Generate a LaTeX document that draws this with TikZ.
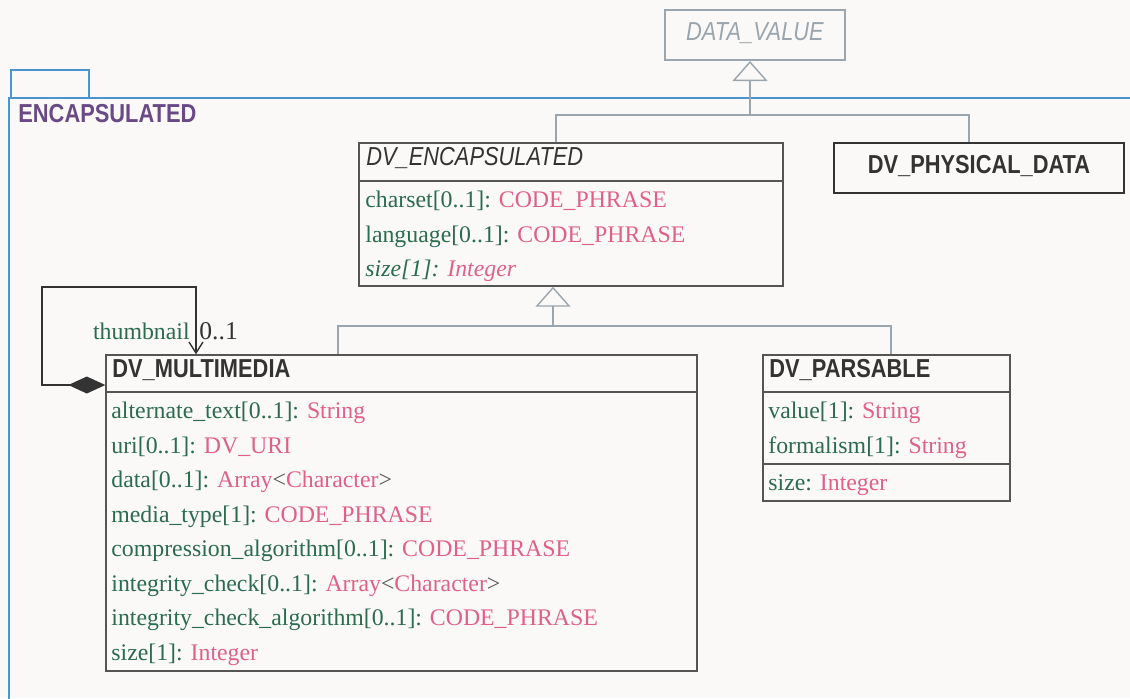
\documentclass[tikz,border=0pt]{standalone}
\usepackage{fontspec}
\setmainfont{Liberation Serif}
\newfontfamily\umlsans[FakeStretch=0.84]{Liberation Sans}
\usetikzlibrary{arrows.meta,fit}

\definecolor{bgcol}{HTML}{FAF9F7}
\definecolor{pkgblue}{HTML}{4A94CF}
\definecolor{pkgname}{HTML}{6A4A86}
\definecolor{genline}{HTML}{9AA5AD}
\definecolor{boxline}{HTML}{555555}
\definecolor{headtext}{HTML}{333333}
\definecolor{attrname}{HTML}{2B6B4E}
\definecolor{attrtype}{HTML}{E0608A}

\newcommand{\attrib}[2]{\textcolor{attrname}{#1:} \textcolor{attrtype}{#2}}
\newcommand{\arrchar}{\textcolor{attrtype}{Array}\textcolor{boxline}{<}\textcolor{attrtype}{Character}\textcolor{boxline}{>}}

\begin{document}
\begin{tikzpicture}[x=0.5pt,y=-0.5pt,
    umlbox/.style={draw=boxline,line width=0.7pt,inner sep=0pt},
    boxrule/.style={draw=boxline,line width=0.7pt},
    gline/.style={draw=genline,line width=1pt},
    gen/.style={gline,-{Triangle[open,length=10pt,width=17.5pt,line width=0.7pt]}},
    assoc/.style={draw=headtext,line width=1pt},
    head/.style={anchor=base west,inner sep=0pt,text=headtext,font=\umlsans\bfseries\fontsize{13}{15}\selectfont},
    attr/.style={anchor=base west,inner sep=0pt,font=\fontsize{11.9}{14}\selectfont}]
    \fill [bgcol] (0,0) rectangle (1130,698);
    \useasboundingbox (0,0) rectangle (1130,698);

    \begin{scope}[pkgblue,line width=1pt]
    \draw (11,70) rectangle (89,98);
    \draw (9,700) -- (9,98) -- (1132,98);
    \end{scope}
    \node [head,text=pkgname] (pkg) at (18,122) {ENCAPSULATED};

    \node [draw=genline,line width=1pt,inner sep=0pt,fit={(665,10) (845,60)}] (dv) {};
    \node [anchor=base,inner sep=0pt,text=genline,font=\umlsans\itshape\fontsize{13}{15}\selectfont] (dvname) at (dv.center |- 0,40) {DATA\_VALUE};

    \node [draw=headtext,line width=1.1pt,inner sep=0pt,fit={(834,143) (1124,193)}] (phys) {};
    \node [head,anchor=base] (physname) at (phys.center |- 0,173) {DV\_PHYSICAL\_DATA};

    \node [umlbox,fit={(359,143) (783,286)}] (enc) {};
    \node [head,font=\umlsans\itshape\fontsize{13}{15}\selectfont] (encname) at (366,165) {DV\_ENCAPSULATED};
    \draw [boxrule] (enc.west |- 0,181) -- (enc.east |- 0,181);
    \node [attr] (enc1) at (365,207) {\attrib{charset[0..1]}{CODE\_PHRASE}};
    \node [attr] (enc2) at (365,242) {\attrib{language[0..1]}{CODE\_PHRASE}};
    \node [attr] (enc3) at (365,276) {\itshape\attrib{size[1]}{Integer}};

    \node [umlbox,fit={(106,355) (697,671)}] (mm) {};
    \node [head] (mmname) at (112,377) {DV\_MULTIMEDIA};
    \draw [boxrule] (mm.west |- 0,392) -- (mm.east |- 0,392);
    \node [attr] (mm1) at (111,418) {\attrib{alternate\_text[0..1]}{String}};
    \node [attr] (mm2) at (111,453) {\attrib{uri[0..1]}{DV\_URI}};
    \node [attr] (mm3) at (111,487) {\textcolor{attrname}{data[0..1]:} \arrchar};
    \node [attr] (mm4) at (111,522) {\attrib{media\_type[1]}{CODE\_PHRASE}};
    \node [attr] (mm5) at (111,556) {\attrib{compression\_algorithm[0..1]}{CODE\_PHRASE}};
    \node [attr] (mm6) at (111,591) {\textcolor{attrname}{integrity\_check[0..1]:} \arrchar};
    \node [attr] (mm7) at (111,625) {\attrib{integrity\_check\_algorithm[0..1]}{CODE\_PHRASE}};
    \node [attr] (mm8) at (111,660) {\attrib{size[1]}{Integer}};

    \node [umlbox,fit={(763,355) (1010,501)}] (pars) {};
    \node [head] (parsname) at (769,377) {DV\_PARSABLE};
    \draw [boxrule] (pars.west |- 0,392) -- (pars.east |- 0,392);
    \draw [boxrule] (pars.west |- 0,464) -- (pars.east |- 0,464);
    \node [attr] (pars1) at (768,418) {\attrib{value[1]}{String}};
    \node [attr] (pars2) at (768,453) {\attrib{formalism[1]}{String}};
    \node [attr] (pars3) at (768,490) {\attrib{size}{Integer}};

    \coordinate (j1) at (750,115);
    \draw [gen] (j1) -- (750,0 |- dv.south);
    \draw [gline] (556,0 |- enc.north) -- (556,0 |- j1) -| (969,0 |- phys.north);

    \coordinate (j2) at (553,326);
    \draw [gen] (j2) -- (553,0 |- enc.south);
    \draw [gline] (338,0 |- mm.north) |- (891,0 |- j2) -- (891,0 |- pars.north);

    \draw [assoc,{Diamond[length=18.5pt,width=8.5pt]}-{Straight Barb[length=5.5pt,width=7pt,line width=0.7pt]}]
        (mm.west |- 0,385) -| (42,287) -| (196,0 |- mm.north);
    \node [attr,anchor=base east,text=attrname] (role) at (190,339) {thumbnail};
    \node [attr,text=headtext,font=\fontsize{12.8}{14}\selectfont] (mult) at (199,339) {0..1};
\end{tikzpicture}
\end{document}
